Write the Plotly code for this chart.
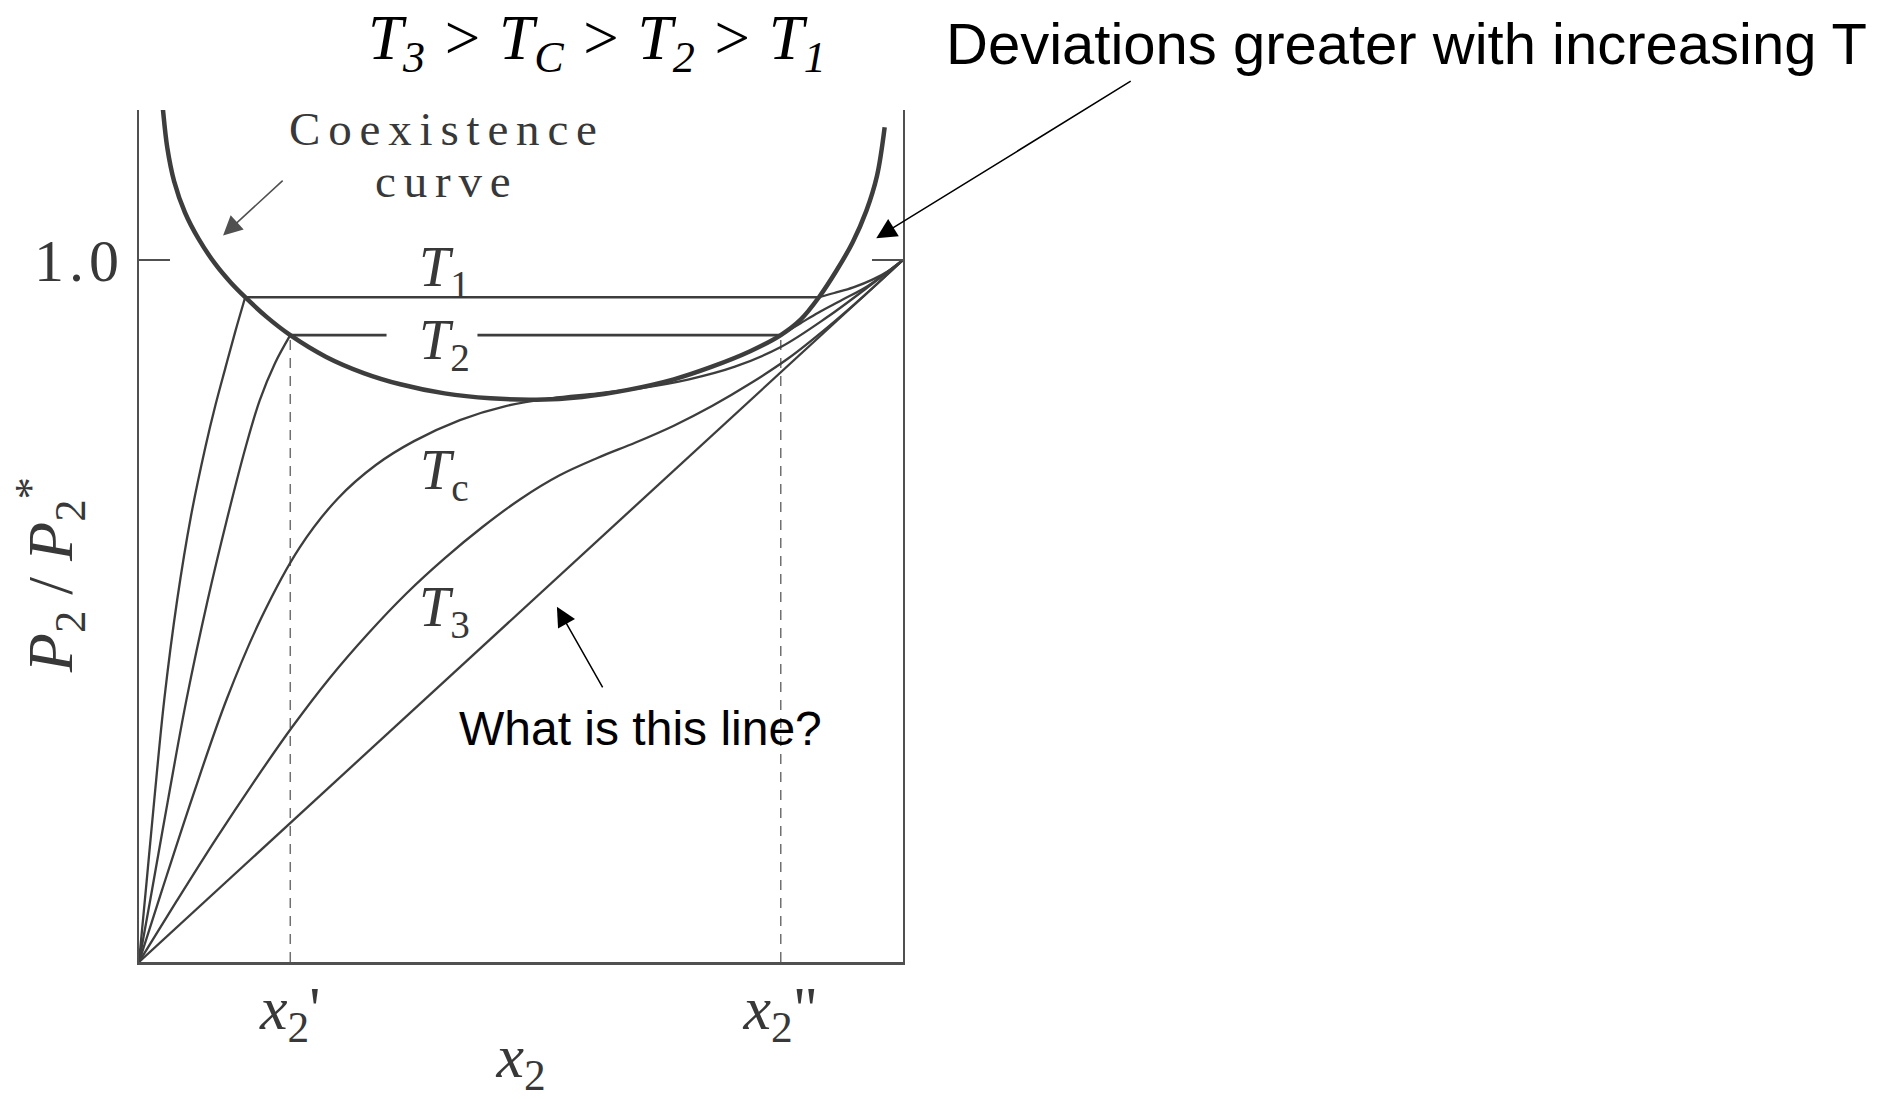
import plotly.graph_objects as go

# ---- data (mole fraction x2, relative partial pressure P2/P2*) ----
coex_x = [0.029, 0.031, 0.037, 0.046, 0.060, 0.078, 0.100, 0.120, 0.139, 0.167, 0.198, 0.245,
          0.294, 0.342, 0.400, 0.460, 0.520, 0.580, 0.640, 0.700, 0.750, 0.800, 0.840, 0.866,
          0.890, 0.913, 0.934, 0.952, 0.966, 0.976]
coex_y = [1.24, 1.218, 1.160, 1.112, 1.068, 1.030, 0.994, 0.968, 0.947, 0.919, 0.893, 0.862,
          0.839, 0.823, 0.810, 0.803, 0.801, 0.805, 0.815, 0.830, 0.848, 0.870, 0.893, 0.915,
          0.947, 0.985, 1.025, 1.070, 1.120, 1.189]

t1_left_x = [0.0, 0.010, 0.020, 0.033, 0.050, 0.068, 0.087, 0.100, 0.113, 0.126, 0.139]
t1_left_y = [0.0, 0.115, 0.231, 0.373, 0.516, 0.635, 0.734, 0.793, 0.846, 0.898, 0.947]
t1_right_x = [0.890, 0.910, 0.935, 0.960, 0.982, 1.0]
t1_right_y = [0.947, 0.953, 0.961, 0.972, 0.985, 1.0]

t2_left_x = [0.0, 0.015, 0.038, 0.062, 0.090, 0.115, 0.140, 0.158, 0.178, 0.198]
t2_left_y = [0.0, 0.090, 0.231, 0.373, 0.516, 0.630, 0.735, 0.800, 0.853, 0.893]
t2_right_x = [0.840, 0.866, 0.889, 0.920, 0.954, 1.0]
t2_right_y = [0.893, 0.910, 0.925, 0.943, 0.963, 1.0]

tc_x = [0.0, 0.030, 0.070, 0.115, 0.160, 0.210, 0.260, 0.310, 0.360, 0.420, 0.480, 0.540,
        0.600, 0.660, 0.720, 0.780, 0.840, 0.900, 0.950, 1.0]
tc_y = [0.0, 0.102, 0.235, 0.375, 0.490, 0.590, 0.660, 0.708, 0.742, 0.772, 0.792, 0.803,
        0.810, 0.818, 0.830, 0.848, 0.876, 0.918, 0.958, 1.0]

t3_x = [0.0, 0.05, 0.10, 0.15, 0.20, 0.25, 0.30, 0.35, 0.40, 0.45, 0.50, 0.55, 0.60, 0.65,
        0.70, 0.75, 0.80, 0.85, 0.90, 0.95, 1.0]
t3_y = [0.0, 0.088, 0.174, 0.256, 0.334, 0.405, 0.468, 0.525, 0.575, 0.620, 0.660, 0.693,
        0.718, 0.740, 0.764, 0.792, 0.824, 0.860, 0.903, 0.950, 1.0]

ideal_x = [0.0, 1.0]
ideal_y = [0.0, 1.0]

# tie lines at T1 and T2 (the T2 line is broken where its label sits)
tie_t1_x, tie_t1_y = [0.139, 0.890], [0.947, 0.947]
tie_t2_x, tie_t2_y = [0.198, 0.324, None, 0.443, 0.840], [0.893, 0.893, None, 0.893, 0.893]
x2_prime, x2_dprime = 0.198, 0.840

LINE = "#3d3d3d"
TXT = "#383838"
SERIF = "Liberation Serif, Times New Roman, serif"
SANS = "Liberation Sans, Arial, sans-serif"

fig = go.Figure()


def curve(x, y, width=2.3, shape="spline", dash=None, color=LINE):
    fig.add_trace(go.Scatter(x=x, y=y, mode="lines",
                             line=dict(color=color, width=width, shape=shape, dash=dash),
                             hoverinfo="skip", showlegend=False))


# dashed guides down to the composition axis
for xv in (x2_prime, x2_dprime):
    curve([xv, xv], [0, tie_t2_y[0]], width=1.5, shape="linear", dash="10px,8px", color="#707070")

curve(ideal_x, ideal_y, shape="linear")
curve(t3_x, t3_y)
curve(tc_x, tc_y)
curve(t2_left_x, t2_left_y)
curve(t2_right_x, t2_right_y)
curve(t1_left_x, t1_left_y)
curve(t1_right_x, t1_right_y)
curve(tie_t1_x, tie_t1_y, width=2.6, shape="linear")
curve(tie_t2_x, tie_t2_y, width=2.6, shape="linear")
curve(coex_x, coex_y, width=4.5)


# ---- labels on the curves ----
def label(x, y, text, size=56, **kw):
    fig.add_annotation(x=x, y=y, xref="x", yref="y", text=text, showarrow=False,
                       font=dict(family=SERIF, size=size, color=TXT), **kw)


label(0.400, 0.985, "<i>T</i><sub>1</sub>")
label(0.400, 0.880, "<i>T</i><sub>2</sub>")
label(0.400, 0.695, "<i>T</i><sub>c</sub>")
label(0.400, 0.500, "<i>T</i><sub>3</sub>")
label(0.398, 1.187, "\u2006".join("Coexistence"), size=47)
label(0.398, 1.112, "\u2006".join("curve"), size=47)

# temperature ordering above the frame
fig.add_annotation(x=0.600, y=1.079, xref="paper", yref="paper", showarrow=False,
                   xanchor="center", yanchor="middle",
                   text="<i>T<sub>3</sub> > T<sub>C</sub> > T<sub>2</sub> > T<sub>1</sub></i>",
                   font=dict(family=SERIF, size=63, color="black"))

# y-axis caption
fig.add_annotation(x=-0.1165, y=0.454, xref="paper", yref="paper", showarrow=False,
                   textangle=-90, xanchor="center", yanchor="middle",
                   text="<i>P</i><sub>2</sub> / <i>P</i><sub>2</sub><sup>*</sup>",
                   font=dict(family=SERIF, size=64, color=TXT))

# ---- callouts ----
fig.add_annotation(x=1.054, y=1.078, xref="paper", yref="paper", showarrow=False,
                   xanchor="left", yanchor="middle",
                   text="Deviations greater with increasing T",
                   font=dict(family=SANS, size=58, color="black"))
fig.add_annotation(x=0.965, y=1.031, ax=1.300, ay=1.256, xref="x", yref="y",
                   axref="x", ayref="y", showarrow=True, text="",
                   arrowhead=2, arrowsize=2.7, arrowwidth=1.5, arrowcolor="black")

fig.add_annotation(x=0.657, y=0.333, xref="x", yref="y", showarrow=False,
                   text="What is this line?", font=dict(family=SANS, size=48, color="black"))
fig.add_annotation(x=0.547, y=0.506, ax=0.608, ay=0.389, xref="x", yref="y",
                   axref="x", ayref="y", showarrow=True, text="",
                   arrowhead=2, arrowsize=2.6, arrowwidth=1.5, arrowcolor="black")

fig.add_annotation(x=0.110, y=1.035, ax=0.190, ay=1.115, xref="x", yref="y",
                   axref="x", ayref="y", showarrow=True, text="",
                   arrowhead=2, arrowsize=2.4, arrowwidth=1.6, arrowcolor="#505050")

fig.update_layout(
    width=1880, height=1099,
    margin=dict(l=139, r=977, t=110, b=137),
    plot_bgcolor="white", paper_bgcolor="white",
    showlegend=False,
    xaxis=dict(range=[0, 1], showgrid=False, zeroline=False, automargin=False,
               showline=True, linecolor="#505050", linewidth=3,
               tickvals=[x2_prime, x2_dprime],
               ticktext=["<i>x</i><sub>2</sub>'", "<i>x</i><sub>2</sub>\""],
               ticks="", ticklabelstandoff=-10,
               tickfont=dict(family=SERIF, size=62, color=TXT),
               title=dict(text="<i>x</i><sub>2</sub>", standoff=37,
                          font=dict(family=SERIF, size=62, color=TXT))),
    yaxis=dict(range=[0, 852 / 702], showgrid=False, zeroline=False, automargin=False,
               showline=True, linecolor="#505050", linewidth=2, mirror="ticks",
               tickvals=[1.0], ticktext=["1\u200a.\u200a0"], ticks="inside", ticklen=31,
               tickwidth=2, tickcolor="#505050", ticklabelstandoff=6,
               tickfont=dict(family=SERIF, size=60, color=TXT)),
)

fig.write_html("out.html")
